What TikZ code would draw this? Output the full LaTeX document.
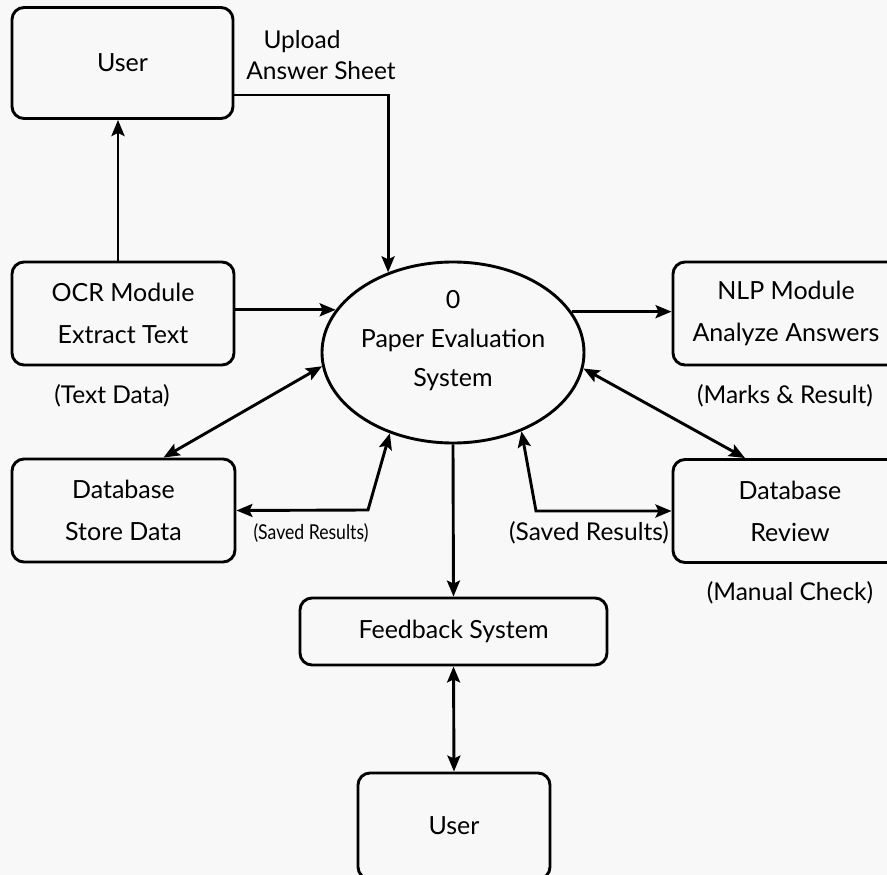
\documentclass[tikz,border=0pt]{standalone}
\usepackage{fontspec}
\setmainfont{Lato}
\usetikzlibrary{shapes.geometric,arrows.meta,calc}
\definecolor{bg}{RGB}{248,248,248}
\begin{document}
\begin{tikzpicture}[x=1pt,y=-1pt,
  box/.style={draw,line width=2.9pt,rounded corners=12pt,fill=bg,align=center,inner sep=0pt,font=\fontsize{25}{42}\selectfont},
  lbl/.style={inner sep=0pt,font=\fontsize{24.5}{28}\selectfont},
  arr/.style={line width=2.9pt,-{Stealth[length=16pt,width=13pt,inset=3pt]}},
  darr/.style={line width=2.9pt,{Stealth[length=16pt,width=13pt,inset=3pt]}-{Stealth[length=16pt,width=13pt,inset=3pt]}}]
\clip (0,0) rectangle (887,875);
\fill[bg] (0,0) rectangle (887,875);
% boxes
\node[box,minimum width=221pt,minimum height=111pt] (u1) at (122.5,63) {User};
\node[box,minimum width=222pt,minimum height=103pt] (ocr) at (123,313.5) {OCR Module\\Extract Text};
\node[box,minimum width=223pt,minimum height=103pt] (dbs) at (123.5,510.5) {Database\\Store Data};
\node[box,minimum width=226pt,minimum height=103pt] (nlp) at (786,313.5) {NLP Module\\Analyze Answers};
\node[box,minimum width=234pt,minimum height=103pt] (dbr) at (790,511) {Database\\Review};
\node[box,minimum width=307pt,minimum height=67pt] (fb) at (453.5,631.5) {Feedback System};
\node[box,minimum width=192pt,minimum height=106pt] (u2) at (454,826) {User};
\node[draw,ellipse,line width=2.9pt,minimum width=262pt,minimum height=181pt,inner sep=0pt,fill=bg,font=\fontsize{25}{39}\selectfont] (sys) at (453,352.5)
  {\raisebox{0pt}[45pt][59pt]{\begin{tabular}{@{}c@{}}0\\Paper Evaluation\\System\end{tabular}}};
% labels
\node[lbl] (l1) at (302,42) {Upload};
\node[lbl] (l2) at (321,71) {Answer Sheet};
\node[lbl] (l3) at (112,396) {(Text Data)};
\node[lbl,font=\fontsize{20.5}{24}\selectfont] (l4) at (311,533) {\scalebox{0.86}[1]{(Saved Results)}};
\node[lbl] (l5) at (589,533) {(Saved Results)};
\node[lbl] (l6) at (785,396) {(Marks \& Result)};
\node[lbl] (l7) at (790,593) {(Manual Check)};
% connectors
\coordinate (cl) at (368,510);
\coordinate (cr) at (536,511);
\draw[arr] ([yshift=-32pt]u1.east) -| (sys.129);
\draw[arr] ([xshift=-5pt]ocr.north) -- ([xshift=-5pt]ocr.north |- u1.south);
\draw[arr] (ocr.east |- sys.160.6) -- (sys.160.6);
\draw[arr] (sys.19.4) -- (nlp.west |- sys.19.4);
\draw[darr] (sys.186) -- ([xshift=40pt]dbs.north);
\draw[darr] (sys.353) -- ([xshift=-45pt]dbr.north);
\draw[darr] (dbs.east) -- (cl) -- (sys.232);
\draw[darr] (sys.311) -- (cr) -- (dbr.west);
\draw[arr] (sys.south) -- (fb.north);
\draw[darr] (fb.south) -- (u2.north);
\end{tikzpicture}
\end{document}
